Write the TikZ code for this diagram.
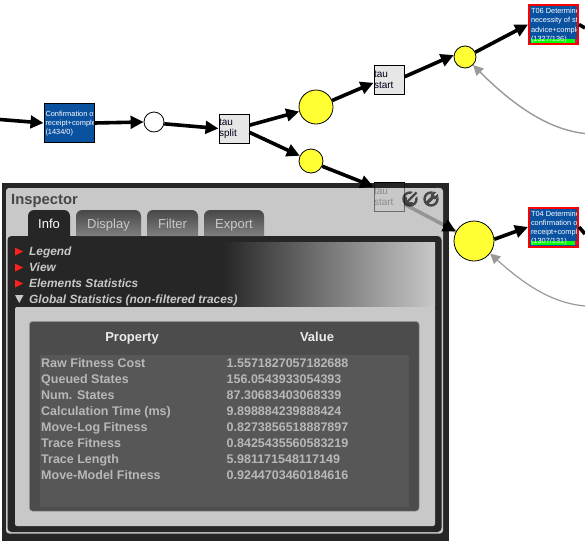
\documentclass[tikz,border=0pt]{standalone}
\usepackage{fontspec}
\setmainfont{Liberation Sans}
\usetikzlibrary{arrows.meta,calc}
\definecolor{panelDark}{HTML}{262626}
\definecolor{panelLight}{HTML}{C8C8C8}
\definecolor{taskBlue}{HTML}{0A52A0}
\definecolor{placeYellow}{HTML}{FFFF33}
\definecolor{tauGrey}{HTML}{E6E6E6}
\definecolor{tableBody}{HTML}{575757}
\definecolor{tableFrame}{HTML}{4C4C4C}
\definecolor{rowText}{HTML}{B8B8B8}
\definecolor{markRed}{HTML}{FF2020}
\newcommand{\px}[1]{\fontsize{#1}{#1}\selectfont}
\newcommand{\tasktext}[2]{\node[anchor=north west,inner sep=0pt,text=white,align=left,font=\px{7.4}] at ([shift={(1pt,#1)}]path picture bounding box.north west) {#2};}
\tikzset{
  x=1pt,y=-1pt,
  flow/.style={line width=3.6pt,-{Triangle[length=13pt,width=12.5pt]}},
  back/.style={line width=1.4pt,draw=black!40,-{Triangle[length=10pt,width=10pt]}},
  place/.style={circle,draw=black,line width=.8pt,inner sep=0pt,fill=placeYellow},
  taskbox/.style={rectangle,draw=black,line width=1pt,fill=taskBlue,minimum width=49pt,minimum height=39pt,inner sep=0pt},
  alarmbox/.style={taskbox,draw=red,line width=2pt},
  taubox/.style={rectangle,draw=black,line width=1pt,fill=tauGrey,minimum width=30pt,minimum height=29pt,inner sep=0pt,text width=30pt,align=left,font=\px{10},text=black!90!blue},
  tabbox/.style={anchor=base,font=\px{13},text=panelLight,inner sep=0pt},
  heading/.style={anchor=base west,font=\bfseries\itshape\px{11.9},text=panelLight,inner sep=0pt},
  rowcell/.style={anchor=base west,font=\bfseries\px{12.5},text=rowText,inner sep=0pt},
  headcell/.style={anchor=base,font=\bfseries\px{13},text=white!92!black,inner sep=0pt},
  icon/.style={circle,draw=black!72,line width=2.4pt,minimum size=13pt,inner sep=0pt}
}
\begin{document}
\begin{tikzpicture}
\useasboundingbox (0,0) rectangle (585,541);
% --- graph nodes above the inspector
\node[taskbox,minimum width=50pt,path picture={\tasktext{0pt}{Confirmation of\\[1.4pt]receipt+complete\\[1.4pt](1434/0)}}] (confirm) at (69,123) {};
\node[place,fill=white,minimum size=20pt] (p1) at (154,122) {};
\node[taubox] (split) at (234,128.5) {tau\\[1pt]split};
\node[place,minimum size=34pt] (p2) at (316,107) {};
\node[place,minimum size=24pt] (p3) at (311,161) {};
\node[taubox] (startA) at (389,79.5) {tau\\[1pt]start};
\node[place,minimum size=22pt] (p4) at (465,57) {};
\node[place,minimum size=40pt] (p5) at (474,241) {};
\node[alarmbox,path picture={
  \fill[green] (-23,14.5) rectangle (23,18.5);
  \fill[magenta] (21.5,14.5) rectangle (23,18.5);
  \tasktext{0pt}{T06 Determine\\[1.8pt]necessity of stop\\[1.8pt]advice+complete\\[1.8pt](1327/136)}}] (t06) at (553.5,24.5) {};
\node[alarmbox,path picture={
  \fill[green] (-23,14) rectangle (23,18);
  \fill[magenta] (21.5,14) rectangle (23,18);
  \tasktext{0pt}{T04 Determine\\[1.8pt]confirmation of\\[1.8pt]receipt+complete\\[1.8pt](1307/131)}}] (t04) at (553.5,227) {};
\coordinate (inL) at (0,119.5);
\coordinate (outA) at (585,28);
\coordinate (outB) at (585,234);
\coordinate (backA) at (585,133.5);
\coordinate (backB) at (585,306);
% --- edges that stay outside the inspector
\draw[flow] (inL) -- (confirm.west);
\draw[flow] (confirm.east) -- (p1.west);
\draw[flow] (p1.-10) -- (split.west);
\draw[flow] (split.12) -- (p2.195);
\draw[flow] (split.-14) -- (p3.155);
\draw[flow] (p2.22) -- (startA.-168);
\draw[flow] (startA.10) -- (p4.170);
\draw[flow] (p4.25) -- (t06.west);
\draw[flow] (p5.5) -- (t04.west);
\draw[line width=3.6pt] (t06.east) -- (outA);
\draw[line width=3.6pt] (t04.east) -- (outB);
\draw[back] (backA) .. controls (552,130) and (518,110) .. (p4.-45);
\draw[back,line width=1.2pt] (backB) .. controls (552,303) and (525,285) .. (p5.-38);
% --- inspector panel
\fill[panelDark] (2,183) rectangle (449,541);
\fill[panelLight,rounded corners=3pt] (6,188) rectangle (443,533.5);
\fill[panelDark,rounded corners=4pt] (7.5,236) rectangle (441.5,532);
\shade[left color=panelDark,right color=panelLight] (222,242) rectangle (435,307);
\fill[panelLight,rounded corners=2pt] (15,307) rectangle (435,526);
% tabs
\fill[panelDark] (28,236) [rounded corners=6pt] -- (28,210) -- (70,210) [sharp corners] -- (70,236) -- cycle;
\shade[top color=black!72,bottom color=black!50] (76,236) [rounded corners=6pt] -- (76,210) -- (141,210) [sharp corners] -- (141,236) -- cycle;
\shade[top color=black!72,bottom color=black!50] (147,236) [rounded corners=6pt] -- (147,210) -- (198,210) [sharp corners] -- (198,236) -- cycle;
\shade[top color=black!72,bottom color=black!50] (204,236) [rounded corners=6pt] -- (204,210) -- (264,210) [sharp corners] -- (264,236) -- cycle;
\node[anchor=base west,inner sep=0pt,font=\bfseries\px{14.8},text=black!72] (title) at (11,204) {Inspector};
\node[tabbox,text=white] (tabInfo) at (49,228.5) {Info};
\node[tabbox] (tabDisplay) at (108.5,228.5) {Display};
\node[tabbox] (tabFilter) at (172.5,228.5) {Filter};
\node[tabbox] (tabExport) at (234,228.5) {Export};
% section headings
\node[heading] (hLegend) at (29,255.5) {Legend};
\node[heading] (hView) at (29,271.5) {View};
\node[heading] (hElements) at (29,287.5) {Elements Statistics};
\node[heading] (hGlobal) at (29,303.5) {Global Statistics (non-filtered traces)};
\fill[markRed] (15,247.5) -- (23,251.5) -- (15,255.5) -- cycle;
\fill[markRed] (15,263.5) -- (23,267.5) -- (15,271.5) -- cycle;
\fill[markRed] (15,279.5) -- (23,283.5) -- (15,287.5) -- cycle;
\fill[panelLight] (15,295) -- (23.5,295) -- (19.2,303) -- cycle;
% statistics table
\fill[tableFrame,rounded corners=3pt,draw=black!45,line width=.5pt] (29.5,321.5) rectangle (419,511);
\fill[tableBody] (40,355) rectangle (409,507);
\draw[black!65,line width=.6pt] (225,355) -- (225,483);
\node[headcell] (hProp) at (132,341) {Property};
\node[headcell] (hVal) at (317,341) {Value};
\foreach \i/\pr/\va/\yy in {
 1/{Raw Fitness Cost}/{1.5571827057182688}/367.5,
 2/{Queued States}/{156.0543933054393}/383.5,
 3/{Num. States}/{87.30683403068339}/399.5,
 4/{Calculation Time (ms)}/{9.898884239888424}/415.5,
 5/{Move-Log Fitness}/{0.8273856518887897}/431.5,
 6/{Trace Fitness}/{0.8425435560583219}/447.5,
 7/{Trace Length}/{5.981171548117149}/463.5,
 8/{Move-Model Fitness}/{0.9244703460184616}/479.5}{
  \node[rowcell] (prop\i) at (41,\yy) {\pr};
  \node[rowcell] (val\i) at (226.5,\yy) {\va};
}
% icons
\node[icon] (iconA) at (410,199) {};
\node[icon] (iconB) at (431,199) {};
\draw[panelLight,line width=6pt] (412,197) -- (419,190);
\draw[black!72,line width=2.4pt] (416.5,192.5) -- (406.5,202.5);
\draw[black!72,line width=2pt] (406,196.5) -- (406,203) -- (412.5,203);
\draw[panelLight,line width=7pt] (433,197) -- (440,190);
\draw[black!72,line width=3.4pt] (426,204) -- (433,197);
\fill[black!72] (434.5,195.5) circle (3.8pt);
\draw[panelLight,line width=2pt] (434.5,195.5) -- (439,191);
% the lower tau start shows faintly through the panel
\node[taubox,fill=none,draw opacity=.45,text opacity=.3] (startB) at (389,197) {tau\\[1pt]start};
\draw[black,line width=1pt] (startB.north west) -- (startB.north east);
\draw[flow] (p3.-25) -- (startB.146);
\draw[line width=3.6pt,opacity=.25] (startB.-25) -- (p5.152);
\draw[flow] ($(startB.-25)!.76!(p5.152)$) -- (p5.152);
\end{tikzpicture}
\end{document}
